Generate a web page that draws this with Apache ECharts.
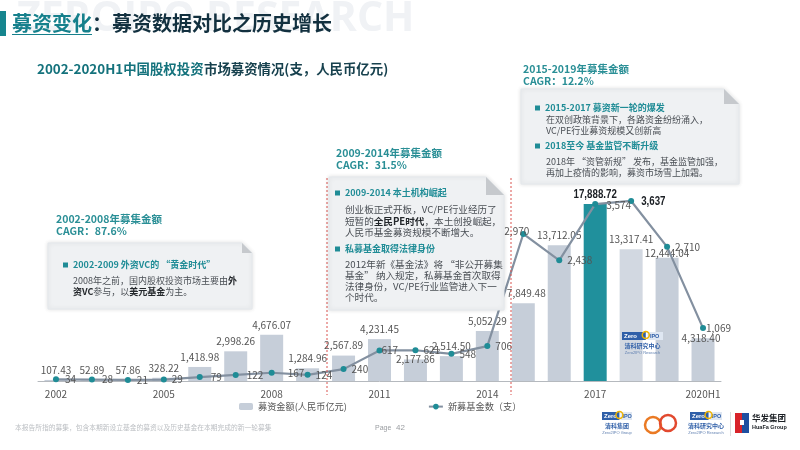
<!DOCTYPE html>
<html lang="zh-CN">
<head>
  <meta charset="UTF-8">
  <title>募资变化</title>
  <script src="https://cdn.jsdelivr.net/npm/echarts@6/dist/echarts.min.js"></script>
  <style>
    html, body { margin: 0; padding: 0; background: #fff; }
    #main { width: 800px; height: 450px; }
  </style>
</head>
<body>
  <div id="main"></div>
  <script>
    var categories = ['2002','2003','2004','2005','2006','2007','2008','2009','2010','2011','2012','2013','2014','2015','2016','2017','2018','2019','2020H1'];
    var fundAmount = [107.43,52.89,57.86,328.22,1418.98,2998.26,4676.07,1284.96,2567.89,4231.45,2177.86,2514.50,5052.29,7849.48,13712.05,17888.72,13317.41,12444.04,4318.40];
    var newFunds = [34,28,21,29,79,122,167,124,240,617,621,548,706,2970,2438,3574,3637,2710,1069];

    var FONT = '"Noto Sans CJK SC", "Noto Sans", sans-serif';
    var TEAL = '#1f8c96';
    var BODY = '#4a4f55';

    // 个别标签要挪一下，避免和折线叠在一起
    var barLabelShift = { 10: [0, 10], 13: [3, 0], 17: [0, 5], 18: [-2, 10] };
    var lineLabelShift = { 0: [1, 0], 1: [2, 0], 2: [1, 0], 4: [3, 0], 5: [3, 0], 6: [8, 0], 9: [-6, 0], 13: [14, -3], 15: [3, 1], 18: [-5, 0] };

    // 2017 和 2018 的两个粗体数字是压窄的字，label 做不到，后面用 graphic 画
    var barData = fundAmount.map(function (v, i) {
      var item = { value: v, label: { offset: barLabelShift[i] || [0, 0] } };
      if (categories[i] === '2017') {
        item.itemStyle = { color: '#20909c' };
        item.label.show = false;
      }
      if (categories[i] === '2018') item.itemStyle = { color: '#d2d8e1' };
      return item;
    });

    var lineData = newFunds.map(function (v, i) {
      var item = { value: v, label: { offset: lineLabelShift[i] || [0, 0] } };
      if (categories[i] === '2015') item.label.position = 'left';
      if (categories[i] === '2018') item.label.show = false;
      return item;
    });

    var gfx = [];
    var richStyles = {
      n: { fontFamily: FONT, fontSize: 9, fill: BODY, color: BODY },
      b: { fontFamily: FONT, fontSize: 9, fontWeight: 'bold', fill: '#23272b', color: '#23272b' },
      m: { fontFamily: FONT, fontSize: 9.6, fill: BODY, color: BODY },
      k: { fontFamily: FONT, fontSize: 9.6, fontWeight: 'bold', fill: '#23272b', color: '#23272b' }
    };

    function text(x, y, str, size, color, weight, family, align) {
      gfx.push({
        type: 'text', z: 102, x: x, y: y,
        style: { text: str, fontFamily: family || FONT, fontSize: size, fontWeight: weight || 'normal', fill: color, align: align || 'left', verticalAlign: 'middle' }
      });
    }
    function rich(x, y, str) {
      gfx.push({
        type: 'text', z: 102, x: x, y: y,
        style: { text: str, rich: richStyles, verticalAlign: 'middle' }
      });
    }
    function rect(x, y, w, h, fill, z) {
      gfx.push({ type: 'rect', z: z || 102, shape: { x: x, y: y, width: w, height: h }, style: { fill: fill } });
    }
    function panel(x0, y0, x1, y1, fold) {
      gfx.push({
        type: 'polygon', z: 100,
        shape: { points: [[x0, y0], [x1 - fold, y0], [x1, y0 + fold], [x1, y1], [x0, y1]] },
        style: { fill: '#eff1f3', stroke: '#e4e8ec', lineWidth: 1, shadowBlur: 4, shadowColor: 'rgba(0,0,0,0.12)' }
      });
      gfx.push({
        type: 'polygon', z: 101,
        shape: { points: [[x1 - fold, y0], [x1, y0 + fold], [x1 - fold, y0 + fold]] },
        style: { fill: '#c6c9cd' }
      });
    }
    function heading(x, y, str) {
      rect(x, y - 2.5, 5, 5, TEAL);
      text(x + 10, y, str, 9, TEAL, 'bold');
    }
    function period(x, y, a, b) {
      text(x, y, a, 10.5, '#2a8f96', 'bold');
      text(x, y + 12, b, 10.5, '#2a8f96', 'bold');
    }
    function dashed(x) {
      gfx.push({
        type: 'line', z: 99,
        shape: { x1: x, y1: 178, x2: x, y2: 395 },
        style: { stroke: '#d9534f', lineWidth: 1, lineDash: [2, 2] }
      });
    }
    function zeroLogo(x, y, w, title, sub) {
      rect(x, y, w * 0.58, 8, '#2f5fa8');
      rect(x + w * 0.62, y, w * 0.38, 8, '#dfe7f2');
      text(x + 2, y + 4, 'Zero', 6, '#fff', 'bold', 'Liberation Sans');
      text(x + w * 0.68, y + 4, 'IPO', 5.5, '#2f5fa8', 'bold', 'Liberation Sans');
      gfx.push({ type: 'circle', z: 102, shape: { cx: x + w * 0.58, cy: y + 3, r: 3.5 }, style: { fill: 'none', stroke: '#f0b400', lineWidth: 1.5 } });
      text(x + w / 2, y + 14, title, 6, '#2f5fa8', 'bold', null, 'center');
      text(x + w / 2, y + 21, sub, 4, '#5f7fb0', 'normal', 'Liberation Sans', 'center');
    }
    function narrowBold(x, y, str, align) {
      gfx.push({
        type: 'text', z: 90, x: x, y: y, scaleX: 0.72,
        style: { text: str, fontFamily: 'Liberation Sans', fontSize: 13.5, fontWeight: 'bold', fill: '#1b1f24', align: align, verticalAlign: 'middle' }
      });
    }

    // 水印和标题
    text(17, 19, 'ZEROIPO RESEARCH', 41, '#f0f2f5', 'bold', 'Open Sans');
    rect(0, 11, 6, 25, '#16858e');
    text(12, 23, '募资变化', 20, '#16808c', 'bold');
    rect(12, 34, 80, 1, '#16808c');
    text(92, 23, '：募资数据对比之历史增长', 20, '#12303f', 'bold');
    text(37, 69, '2002-2020H1中国股权投资', 13.4, '#14727c', 'bold');
    text(204, 69, '市场募资情况(支，人民币亿元)', 13.4, '#17414e', 'bold');

    dashed(327);
    dashed(511);

    period(56, 219, '2002-2008年募集金额', 'CAGR：87.6%');
    panel(48, 243, 252, 309, 10);
    heading(63, 265, '2002-2009 外资VC的 “黄金时代”');
    rich(73, 281, '{n|2008年之前，国内股权投资市场主要由}{b|外}');
    rich(73, 292, '{b|资VC}{n|参与，以}{b|美元基金}{n|为主。}');

    period(336, 153, '2009-2014年募集金额', 'CAGR：31.5%');
    panel(329, 177, 504, 310, 18);
    heading(335, 193, '2009-2014 本土机构崛起');
    rich(345, 209, '{m|创业板正式开板，VC/PE行业经历了}');
    rich(345, 221, '{m|短暂的}{k|全民PE时代}{m|，本土创投崛起，}');
    rich(345, 232, '{m|人民币基金募资规模不断增大。}');
    heading(335, 249, '私募基金取得法律身份');
    rich(345, 264, '{m|2012年新《基金法》将 “非公开募集}');
    rich(345, 275, '{m|基金” 纳入规定，私募基金首次取得}');
    rich(345, 286, '{m|法律身份，VC/PE行业监管进入下一}');
    rich(345, 297, '{m|个时代。}');

    period(523, 69, '2015-2019年募集金额', 'CAGR：12.2%');
    panel(521, 89, 739, 184, 15);
    heading(535, 108, '2015-2017 募资新一轮的爆发');
    rich(546, 120, '{n|在双创政策背景下，各路资金纷纷涌入，}');
    rich(546, 131, '{n|VC/PE行业募资规模又创新高}');
    heading(535, 146, '2018至今 基金监管不断升级');
    rich(546, 162, '{n|2018年 “资管新规” 发布，基金监管加强，}');
    rich(546, 173, '{n|再加上疫情的影响，募资市场雪上加霜。}');

    // 页脚和 logo
    text(15, 427, '本报告所指的募集，包含本期新设立基金的募资以及历史基金在本期完成的新一轮募集', 6.75, '#bcbfc3');
    text(375, 428, 'Page', 7, '#9a9da1', 'normal', 'Liberation Sans');
    text(396, 428, '42', 8, '#9a9da1', 'normal', 'Liberation Sans');
    zeroLogo(622, 332, 41, '清科研究中心', 'Zero2IPO Research');
    zeroLogo(602, 412, 30, '清科集团', 'Zero2IPO Group');
    zeroLogo(690, 412, 32, '清科研究中心', 'Zero2IPO Research');
    gfx.push({ type: 'circle', z: 102, shape: { cx: 653, cy: 425, r: 8 }, style: { fill: 'none', stroke: '#ea7a24', lineWidth: 2.5 } });
    gfx.push({ type: 'circle', z: 102, shape: { cx: 668, cy: 423, r: 8 }, style: { fill: 'none', stroke: '#e2492f', lineWidth: 2.5 } });
    rect(730, 412, 1, 24, '#dcdcdc');
    rect(735, 413, 7, 20, '#d8232a');
    rect(742, 413, 7, 20, '#1f4fa0');
    rect(740, 420, 4, 5, '#fff');
    text(752, 418, '华发集团', 8.5, '#1b1f24', 'bold');
    text(752, 427, 'HuaFa Group', 5.5, '#1b1f24', 'bold', 'Liberation Sans');

    var chart = echarts.init(document.getElementById('main'));
    chart.setOption({
      animation: false,
      backgroundColor: '#fff',
      textStyle: { fontFamily: FONT },
      grid: { left: 38, top: 183, width: 683, height: 198 },
      legend: {
        left: 234, top: 397, itemWidth: 14, itemHeight: 7, itemGap: 81,
        textStyle: { fontSize: 9.2, color: '#555', fontFamily: FONT },
        data: ['募资金额(人民币亿元)', '新募基金数（支）']
      },
      xAxis: {
        type: 'category', data: categories,
        axisTick: { show: false },
        axisLine: { lineStyle: { color: '#b5b9be', width: 1 } },
        axisLabel: { interval: 2, color: '#555', fontSize: 10, margin: 8 }
      },
      yAxis: [
        { type: 'value', min: 0, max: 20000, show: false },
        { type: 'value', min: 0, max: 4000, show: false }
      ],
      series: [
        {
          name: '募资金额(人民币亿元)', type: 'bar', data: barData, barWidth: 23,
          itemStyle: { color: '#c6ced9' },
          label: {
            show: true, position: 'top', fontSize: 10, color: '#555',
            formatter: function (p) {
              return p.value.toLocaleString('en-US', { minimumFractionDigits: 2, maximumFractionDigits: 2 });
            }
          }
        },
        {
          name: '新募基金数（支）', type: 'line', yAxisIndex: 1, data: lineData,
          symbol: 'circle', symbolSize: 6,
          lineStyle: { color: '#8390a0', width: 2.2 },
          itemStyle: { color: TEAL },
          label: {
            show: true, position: 'right', fontSize: 10, color: '#555',
            formatter: function (p) { return p.value.toLocaleString('en-US'); }
          }
        }
      ]
    });

    // 两个粗体数字跟着轴算位置
    var i2017 = categories.indexOf('2017');
    var i2018 = categories.indexOf('2018');
    var p2017 = chart.convertToPixel({ seriesIndex: 0 }, [i2017, fundAmount[i2017]]);
    var p2018 = chart.convertToPixel({ seriesIndex: 1 }, [i2018, newFunds[i2018]]);
    narrowBold(p2017[0], p2017[1] - 10, fundAmount[i2017].toLocaleString('en-US', { minimumFractionDigits: 2 }), 'center');
    narrowBold(p2018[0] + 10, p2018[1], newFunds[i2018].toLocaleString('en-US'), 'left');
    chart.setOption({ graphic: gfx });
  </script>
</body>
</html>
